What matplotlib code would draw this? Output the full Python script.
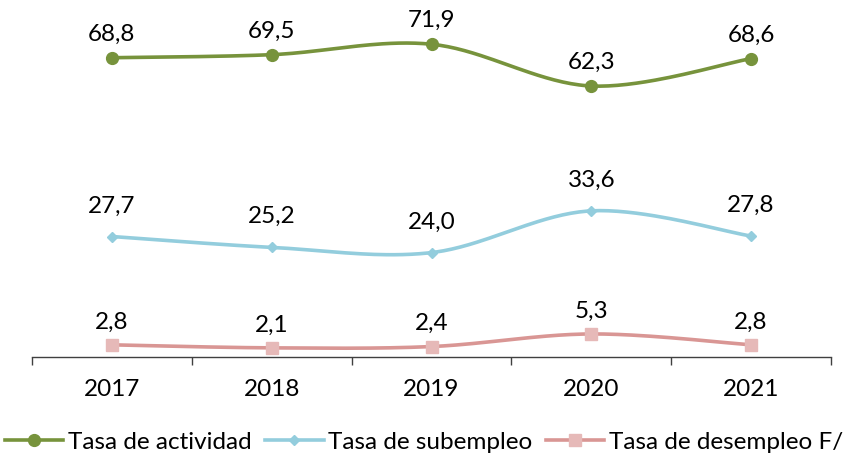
import numpy as np
import matplotlib
matplotlib.use("Agg")
import matplotlib.pyplot as plt
from matplotlib.lines import Line2D

years = ["2017", "2018", "2019", "2020", "2021"]
actividad = [68.8, 69.5, 71.9, 62.3, 68.6]
subempleo = [27.7, 25.2, 24.0, 33.6, 27.8]
desempleo = [2.8, 2.1, 2.4, 5.3, 2.8]
series_names = ["Tasa de actividad", "Tasa de subempleo", "Tasa de desempleo F/"]

plt.rcParams['font.family'] = ['Lato', 'DejaVu Sans']
FS = 17.5

def smooth(xs, ys, n=40):
    P = np.column_stack([xs, ys]).astype(float)
    Pe = np.vstack([P[0], P, P[-1]])
    out = []
    for i in range(len(P) - 1):
        p0, p1, p2, p3 = Pe[i], Pe[i + 1], Pe[i + 2], Pe[i + 3]
        c1 = p1 + (p2 - p0) / 6.0
        c2 = p2 - (p3 - p1) / 6.0
        t = np.linspace(0, 1, n)[:, None]
        b = ((1 - t) ** 3) * p1 + 3 * ((1 - t) ** 2) * t * c1 + 3 * (1 - t) * t ** 2 * c2 + t ** 3 * p2
        out.append(b if i == 0 else b[1:])
    B = np.vstack(out)
    return B[:, 0], B[:, 1]

fig = plt.figure(figsize=(8.46, 4.55), dpi=100)
ax = fig.add_axes([32 / 846, 98 / 455, 799 / 846, 348 / 455])
x = np.arange(len(years))

styles = [
    dict(data=actividad, color="#77933C", mfc="#77933C", marker="o", ms=8.5, off=17),
    dict(data=subempleo, color="#93CDDD", mfc="#93CDDD", marker="D", ms=5, off=22),
    dict(data=desempleo, color="#D99694", mfc="#E6B9B8", marker="s", ms=9, off=16.5),
]
handles = []
for st, name in zip(styles, series_names):
    sx, sy = smooth(x, st["data"])
    ax.plot(sx, sy, color=st["color"], lw=2.6, solid_capstyle="round", zorder=2)
    ax.plot(x, st["data"], ls="none", marker=st["marker"], ms=st["ms"],
            mfc=st["mfc"], mec=st["mfc"], zorder=3)
    for xi, v in zip(x, st["data"]):
        ax.annotate(f"{v:.1f}".replace(".", ","), (xi, v), xytext=(0, st["off"]),
                    textcoords="offset points", ha="center", va="center",
                    fontsize=FS, color="black")
    handles.append(Line2D([], [], color=st["color"], lw=2.6, marker=st["marker"],
                          ms=st["ms"], mfc=st["mfc"], mec=st["mfc"]))

ax.set_xlim(-0.5, 4.5)
ax.set_ylim(0, 80)
for s in ["top", "right", "left"]:
    ax.spines[s].set_visible(False)
ax.spines["bottom"].set_color("#404040")
ax.spines["bottom"].set_linewidth(1.0)
ax.set_yticks([])
ax.set_xticks(np.arange(-0.5, 5.0, 1.0))
ax.set_xticklabels([])
ax.set_xticks(x, minor=True)
ax.set_xticklabels(years, minor=True, fontsize=FS)
ax.tick_params(axis="x", which="major", direction="out", length=6, color="#404040", width=1.0)
ax.tick_params(axis="x", which="minor", length=0, pad=16)

fig.legend(handles, series_names, loc="center left", bbox_to_anchor=(5 / 846, 13 / 455),
           ncol=3, frameon=False, fontsize=FS, handlelength=2.4, handletextpad=0.2,
           columnspacing=0.55, borderaxespad=0, borderpad=0)

fig.savefig("out.png", dpi=100)
